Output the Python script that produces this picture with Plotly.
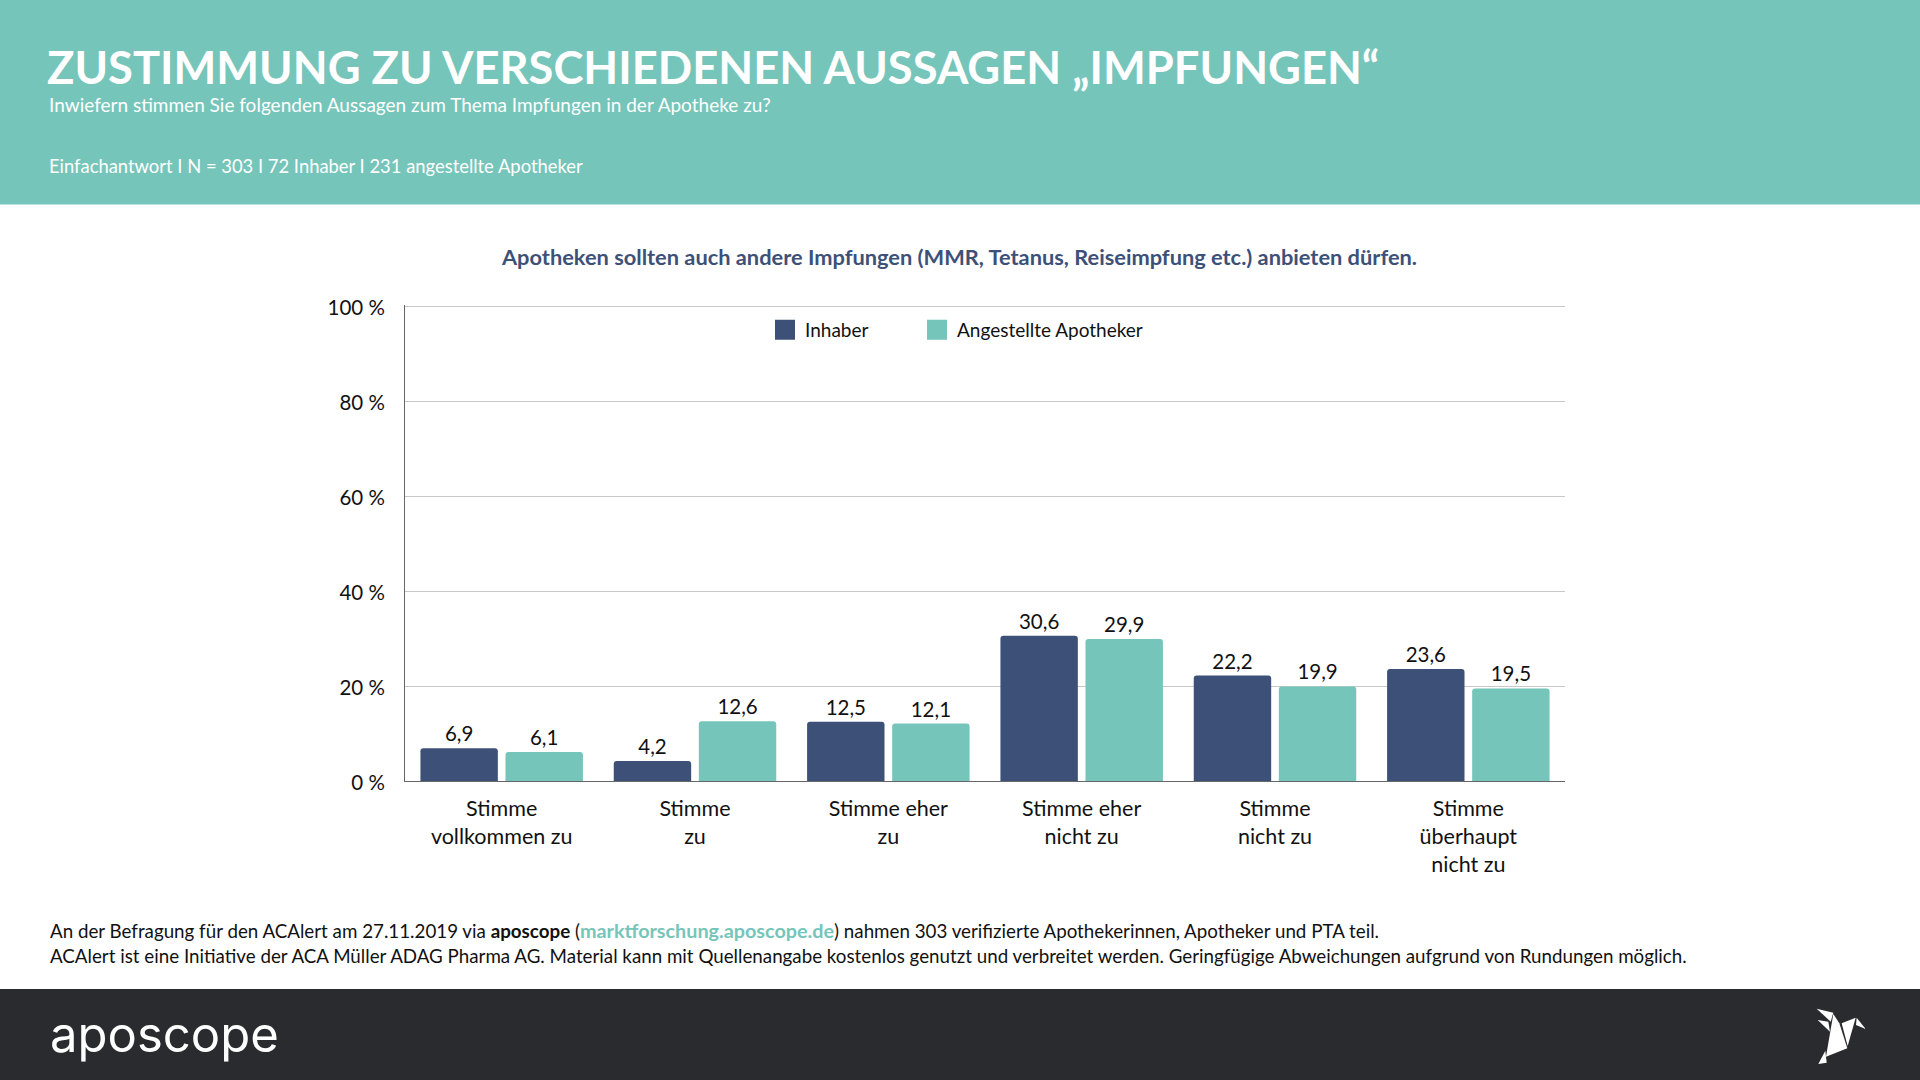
import plotly.graph_objects as go

W, H = 1920, 1080
FONT = "Lato"
NAVY = "#3d5178"
TEAL = "#76c5ba"
DARK = "#2a2b2f"

categories = ["Stimme<br>vollkommen zu", "Stimme<br>zu", "Stimme eher<br>zu",
              "Stimme eher<br>nicht zu", "Stimme<br>nicht zu", "Stimme<br>überhaupt<br>nicht zu"]
inhaber = [6.9, 4.2, 12.5, 30.6, 22.2, 23.6]
angestellte = [6.1, 12.6, 12.1, 29.9, 19.9, 19.5]
y_ticks = [0, 20, 40, 60, 80, 100]
y_labels = ["0 %", "20 %", "40 %", "60 %", "80 %", "100 %"]

title = "ZUSTIMMUNG ZU VERSCHIEDENEN AUSSAGEN „IMPFUNGEN“"
subtitle = "Inwiefern stimmen Sie folgenden Aussagen zum Thema Impfungen in der Apotheke zu?"
sample = "Einfachantwort I N = 303 I 72 Inhaber I 231 angestellte Apotheker"
chart_title = "Apotheken sollten auch andere Impfungen (MMR, Tetanus, Reiseimpfung etc.) anbieten dürfen."
foot1 = ("An der Befragung für den ACAlert am 27.11.2019 via <b>aposcope</b> "
         f"(<b><span style='color:{TEAL};font-size:19.8px'>marktforschung.aposcope.de</span></b>) "
         "nahmen 303 verifizierte Apothekerinnen, Apotheker und PTA teil.")
foot2 = ("ACAlert ist eine Initiative der ACA Müller ADAG Pharma AG. Material kann mit Quellenangabe "
         "kostenlos genutzt und verbreitet werden. Geringfügige Abweichungen aufgrund von Rundungen möglich.")


def fx(x):
    return x / W


def fy(y):
    return 1 - y / H


def text(x, y, s, size, color="#111111", bold=False, anchor="left", family=FONT, weight=None):
    return dict(x=fx(x), y=fy(y), xref="paper", yref="paper", text=s, showarrow=False,
                xanchor=anchor, yanchor="middle", align=anchor,
                font=dict(family=family, size=size, color=color,
                          weight=weight or (700 if bold else 400)))


def poly(points):
    def pt(p):
        return f"{fx(1700 + p[0] / 3):.5f},{fy(980 + p[1] / 3):.5f}"
    path = "M" + " L".join(pt(p) for p in points) + " Z"
    return dict(type="path", path=path, xref="paper", yref="paper", fillcolor="white",
                line_width=0, layer="below")


fig = go.Figure()
for name, vals, col, leg in [("Inhaber", inhaber, NAVY, "legend"),
                             ("Angestellte Apotheker", angestellte, TEAL, "legend2")]:
    fig.add_bar(x=categories, y=vals, name=name, marker=dict(color=col, line_width=0),
                texttemplate="%{y:.1f}", textposition="outside", textangle=0,
                textfont=dict(family=FONT, size=20.5, color="#111111"), cliponaxis=False,
                showlegend=False, hoverinfo="skip")
    fig.add_scatter(x=[None], y=[None], mode="markers", name=name, showlegend=True, legend=leg,
                    marker=dict(symbol="square", size=16, color=col, line=dict(color=col, width=4)))

bird = [
    [(350, 86), (400, 98), (392, 125)],
    [(353, 120), (385, 125), (390, 155)],
    [(400, 102), (418, 130), (442, 205), (378, 230)],
    [(425, 130), (467, 113), (443, 198)],
    [(470, 113), (497, 147), (468, 135)],
    [(376, 212), (380, 248), (355, 252)],
]

shapes = [
    dict(type="rect", xref="paper", yref="paper", x0=0, x1=1, y0=fy(204.5), y1=1,
         fillcolor=TEAL, line_width=0, layer="below"),
    dict(type="rect", xref="paper", yref="paper", x0=0, x1=1, y0=0, y1=fy(989),
         fillcolor=DARK, line_width=0, layer="below"),
] + [poly(p) for p in bird]

annotations = [
    text(45, 67, title, 45.3, "white", True),
    text(47, 104, subtitle, 19, "white"),
    text(47, 166, sample, 18.4, "white"),
    text(959, 257, chart_title, 21.8, NAVY, True, "center"),
    text(48, 930, foot1, 18.75),
    text(48, 955, foot2, 18.75),
    text(48, 1034, "aposcope", 49, "white", family="Inter", weight=400),
]


def legend_at(x):
    return dict(orientation="h", x=fx(x), y=fy(330), xanchor="left", yanchor="middle",
                xref="paper", yref="paper", bgcolor="rgba(0,0,0,0)",
                font=dict(family=FONT, size=19, color="#111111"),
                itemsizing="trace", itemwidth=30)


fig.update_layout(
    width=W, height=H, margin=dict(l=0, r=0, t=0, b=0, autoexpand=False),
    paper_bgcolor="white", plot_bgcolor="rgba(0,0,0,0)",
    font=dict(family=FONT, size=20, color="#111111"),
    barmode="group", bargap=0.12, bargroupgap=0.09, barcornerradius=3,
    separators=",.",
    shapes=shapes, annotations=annotations,
    legend=legend_at(765), legend2=legend_at(917),
    xaxis=dict(domain=[fx(405), fx(1565)], showgrid=False, showline=True, linecolor="#666666",
               linewidth=1, ticks="outside", ticklen=8, tickcolor="rgba(0,0,0,0)",
               tickfont=dict(family=FONT, size=21.5, color="#111111"), tickangle=0, fixedrange=True),
    yaxis=dict(domain=[fy(781), fy(304.6)], range=[0, 100.3], tickvals=y_ticks, ticktext=y_labels,
               showgrid=True, gridcolor="#c8c8c8", gridwidth=1, showline=True, linecolor="#666666",
               linewidth=1, ticks="outside", ticklen=15, tickcolor="rgba(0,0,0,0)",
               zeroline=False, tickfont=dict(family=FONT, size=20.5, color="#111111"),
               ticklabelshift=2, fixedrange=True),
)

fig.write_html("out.html", config={"displayModeBar": False},
               post_script="document.body.style.margin='0';")
